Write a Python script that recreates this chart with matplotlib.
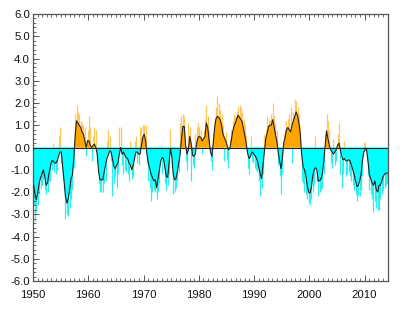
import numpy as np
import matplotlib
matplotlib.use("Agg")
import matplotlib.pyplot as plt
from matplotlib.ticker import MultipleLocator, FormatStrFormatter

plt.rcParams['font.family'] = ['Liberation Sans', 'DejaVu Sans']

START_YEAR = 1950
STEP = 0.25  # quarterly values

# smoothed index (black line, filled), quarterly, by decade
smooth_1950s = [-1.7, -2.1, -2.35, -2.0, -1.6, -1.35, -1.2, -1.0, -1.3, -1.7, -1.6, -1.2,
                -0.9, -0.6, -0.6, -0.7, -0.7, -0.6, -0.4, -0.2, -0.2, -0.9, -1.5, -2.2,
                -2.5, -2.3, -1.9, -1.4, -1.25, -0.5, 0.5, 1.2, 1.1, 1.0, 0.9, 0.7,
                0.6, 0.3, 0.0, 0.3]
smooth_1960s = [0.3, 0.1, 0.0, 0.1, 0.15, 0.0, -0.3, -1.1, -1.45, -1.45, -1.45, -1.1,
                -0.8, -0.5, -0.35, -0.15, -0.2, -0.5, -0.85, -0.95, -0.8, -0.7, -0.3, 0.0,
                -0.3, -0.2, -0.35, -0.45, -0.5, -0.7, -0.8, -1.0, -0.8, -0.5, -0.2, -0.2,
                -0.3, -0.3, 0.1, 0.45]
smooth_1970s = [0.6, 0.3, -0.3, -0.7, -0.95, -1.2, -1.35, -1.5, -1.45, -1.8, -1.4, -1.0,
                -0.6, -0.45, -0.5, -0.9, -1.3, -1.35, -0.7, -0.05, -0.4, -1.2, -1.45, -1.4,
                -1.1, -0.7, -0.3, 0.4, 0.95, 0.95, 0.1, -0.3, -0.1, 0.5, 0.2, -0.35,
                -0.4, -0.3, 0.2, 0.45]
smooth_1980s = [0.5, 0.45, 0.3, 0.4, 0.5, 1.1, 0.9, 0.3, -0.2, -0.4, 0.2, 0.9,
                1.3, 1.4, 1.35, 1.25, 1.0, 0.6, 0.45, 0.3, 0.1, -0.1, -0.05, 0.3,
                0.7, 0.95, 1.1, 1.3, 1.45, 1.35, 1.25, 1.15, 0.8, 0.5, 0.1, -0.3,
                -0.5, -0.4, -0.2, -0.25]
smooth_1990s = [-0.35, -0.45, -0.6, -0.9, -1.2, -1.4, -0.8, -0.2, 0.4, 0.65, 0.94, 1.0,
                1.0, 1.25, 0.95, 0.6, 0.3, -0.2, -0.6, -0.95, -0.5, 0.2, 0.45, 0.8,
                0.9, 0.8, 0.7, 1.0, 1.2, 1.4, 1.6, 1.45, 1.1, 0.6, -0.3, -0.85,
                -1.0, -1.25, -1.7, -2.0]
smooth_2000s = [-2.05, -1.8, -1.3, -1.0, -0.9, -1.0, -1.5, -1.5, -1.4, -1.2, -0.6, 0.1,
                0.75, 0.4, 0.1, -0.1, -0.2, -0.3, -0.2, -0.1, 0.1, 0.2, -0.1, -0.4,
                -0.55, -0.5, -0.6, -0.6, -0.55, -0.6, -0.8, -1.0, -1.2, -1.5, -1.75, -1.7,
                -1.5, -1.2, -0.6, -0.2]
smooth_2010s = [-0.1, -0.1, -0.6, -1.2, -1.4, -1.6, -1.7, -1.5, -1.9, -2.0, -1.7, -1.7,
                -1.5, -1.3, -1.2, -1.15, -1.15]

# extreme monthly value within each quarter (thin bars)
peak_1950s = [-2.6, -3.3, -2.9, -2.6, -2.1, -1.8, -1.7, -1.4, -1.9, -2.1, -2.0, -1.5,
              -1.5, -1.0, 0.2, -1.1, -1.2, -1.0, 0.5, 0.9, -0.7, -1.5, -1.9, -3.2,
              -3.0, -3.1, -2.7, -2.3, -1.9, -0.9, 1.5, 1.9, 1.6, 1.5, 1.2, 1.1,
              1.0, 0.9, -0.4, 0.8]
peak_1960s = [1.4, 0.9, -0.6, 0.5, 0.9, 0.8, -0.7, -1.6, -2.0, -2.0, -2.0, -1.6,
              -1.5, 0.3, 0.8, 0.5, -0.6, -2.2, -1.6, -1.3, -1.8, -1.2, 0.9, 0.9,
              -0.8, -1.2, -1.0, -1.1, -1.2, -1.5, 0.3, -1.4, -1.3, 0.3, 0.5, -0.7,
              -0.8, 0.9, 0.9, 1.0]
peak_1970s = [1.0, 1.0, -0.7, -1.5, -1.8, -2.4, -2.0, -1.9, -2.0, -2.3, -2.0, -1.6,
              0.1, -1.2, -0.9, -1.6, -1.9, -1.7, -1.2, 0.85, -0.8, -2.1, -2.0, -1.8,
              -1.5, -1.1, 1.1, 1.4, 1.5, 1.4, -0.6, -1.0, 1.1, 0.9, -1.5, -0.8,
              -0.9, 0.6, 0.9, 1.1]
peak_1980s = [0.9, 0.8, -0.3, 0.8, 1.3, 1.9, 1.4, 0.8, -0.6, -1.0, 0.6, 1.3,
              1.8, 2.3, 2.0, 1.7, 1.5, 1.0, -0.6, 0.7, -0.5, -0.9, 0.4, 0.8,
              1.2, 1.5, 1.4, 1.6, 1.8, 1.9, 1.76, 1.6, 1.3, 1.0, 0.5, -0.9,
              -1.2, 0.5, -0.6, -0.7]
peak_1990s = [-0.9, -1.0, -1.1, -1.5, -2.2, -1.8, -1.2, 0.6, 0.8, 1.4, 1.3, 1.2,
              1.5, 2.0, 1.4, 1.1, 0.8, -0.8, -1.3, -2.1, -1.2, 0.6, 0.8, 1.2,
              1.3, 1.5, 1.8, -0.7, 1.6, 2.2, 2.1, 1.8, 1.5, 1.0, -1.5, -1.6,
              -2.0, -2.1, -2.3, -2.5]
peak_2000s = [-2.6, -2.3, -2.0, -1.7, 0.5, -1.5, -2.2, -2.0, -1.9, -1.8, -1.2, 0.6,
              1.5, 1.2, 0.8, -0.7, -0.9, 0.4, -0.8, -0.6, 0.6, 1.1, -1.2, -1.8,
              -1.2, 0.3, -1.3, -1.2, -1.1, -1.3, -1.5, -1.7, -1.9, -2.1, -2.4, -2.2,
              -2.2, -1.9, -1.3, 0.25]
peak_2010s = [0.2, -0.6, -1.3, -1.9, -2.1, -2.3, -2.9, -2.4, -2.7, -2.8, -2.8, -2.3,
              -2.1, -1.9, -1.8, -1.7, -1.6]

year_ticks = [1950, 1960, 1970, 1980, 1990, 2000, 2010]
value_ticks = [-6.0, -5.0, -4.0, -3.0, -2.0, -1.0, 0.0, 1.0, 2.0, 3.0, 4.0, 5.0, 6.0]

smooth = np.array(smooth_1950s + smooth_1960s + smooth_1970s + smooth_1980s
                  + smooth_1990s + smooth_2000s + smooth_2010s)
peak = np.array(peak_1950s + peak_1960s + peak_1970s + peak_1980s
                + peak_1990s + peak_2000s + peak_2010s)
t = START_YEAR + STEP / 2 + STEP * np.arange(len(smooth))

ORANGE = '#FFA500'
ORANGE_LIGHT = '#FFC75A'
CYAN = '#00FFFF'
CYAN_LIGHT = '#2AF0F0'
FRAME = '#555555'

fig = plt.figure(figsize=(4.0, 3.22), dpi=100)
ax = fig.add_axes([0.0825, 0.1273, 0.8875, 0.8292])

pos = peak >= 0
ax.vlines(t[pos], 0, peak[pos], colors=ORANGE_LIGHT, linewidth=0.9, zorder=1)
ax.vlines(t[~pos], 0, peak[~pos], colors=CYAN_LIGHT, linewidth=0.9, zorder=1)

ax.fill_between(t, smooth, 0, where=smooth >= 0, interpolate=True,
                color=ORANGE, linewidth=0, zorder=2)
ax.fill_between(t, smooth, 0, where=smooth <= 0, interpolate=True,
                color=CYAN, linewidth=0, zorder=2)
ax.plot(t, smooth, color='#222222', linewidth=0.8, zorder=3)
ax.axhline(0, color='#222222', linewidth=0.8, zorder=4)

ax.set_xlim(1950, 2014.25)
ax.set_ylim(-6, 6)
ax.set_xticks(year_ticks)
ax.set_xticklabels([str(y) for y in year_ticks])
ax.set_yticks(value_ticks)
ax.yaxis.set_major_formatter(FormatStrFormatter('%.1f'))
ax.xaxis.set_minor_locator(MultipleLocator(10 / 12))
ax.yaxis.set_minor_locator(MultipleLocator(0.2))

ax.tick_params(axis='both', which='both', direction='in', colors=FRAME,
               labelcolor='#111111', labelsize=8.2)
ax.tick_params(axis='x', which='both', top=True, bottom=True, pad=6.5)
ax.tick_params(axis='y', which='both', left=True, right=False, pad=2.2)
ax.tick_params(which='major', length=4, width=0.7)
ax.tick_params(which='minor', length=2, width=0.6)
for s in ax.spines.values():
    s.set_color(FRAME)
    s.set_linewidth(0.9)

fig.savefig('out.png', dpi=100)
